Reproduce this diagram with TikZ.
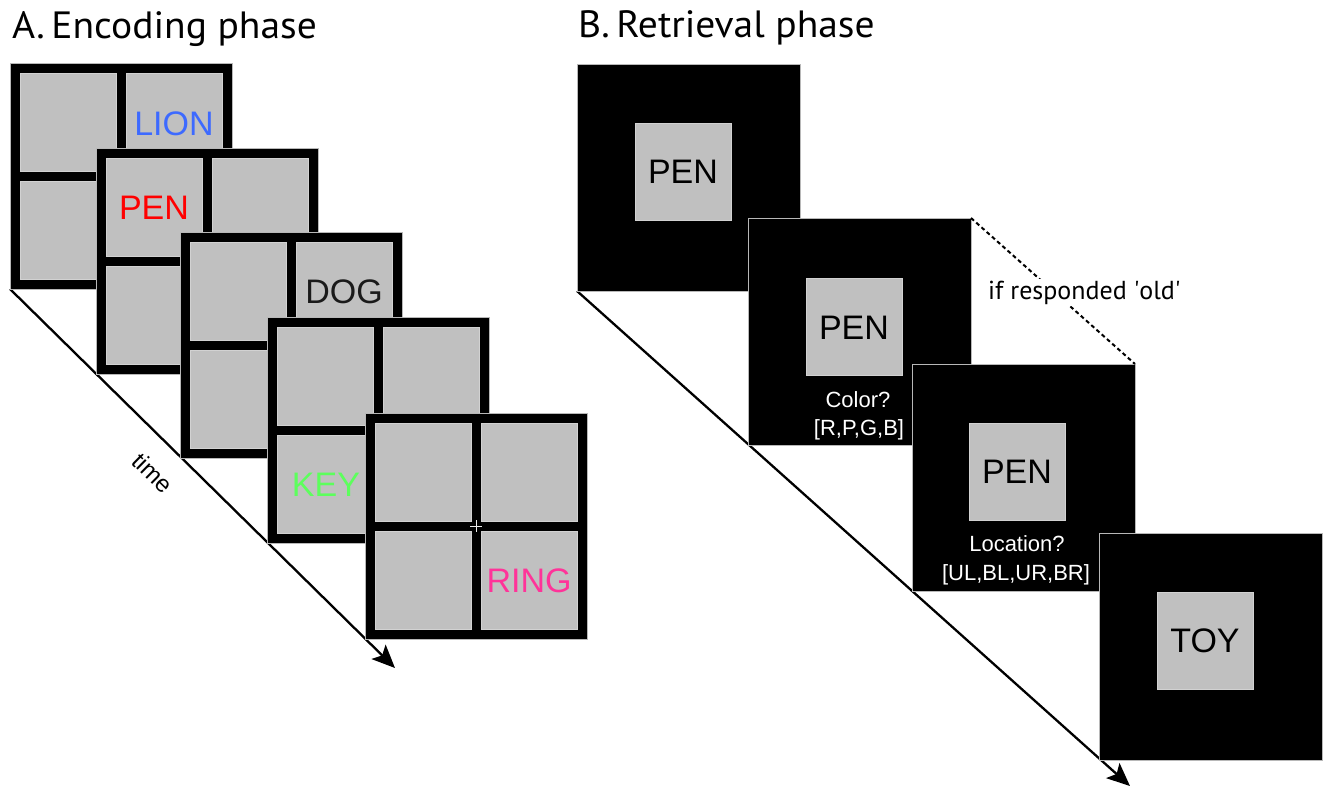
\documentclass[tikz,border=0pt]{standalone}
\usepackage{fontspec}
\setmainfont{Liberation Sans}
\newfontfamily\titlefont{PT Sans}
\usetikzlibrary{arrows.meta,backgrounds}
\definecolor{cellgray}{HTML}{C0C0C0}
\definecolor{edgegray}{HTML}{B8B8B8}
\definecolor{celledge}{HTML}{D2D2D2}
\definecolor{lionblue}{HTML}{3D6AFF}
\definecolor{penred}{HTML}{FF0000}
\definecolor{dogblack}{HTML}{1A1A1A}
\definecolor{keygreen}{HTML}{5CFF5C}
\definecolor{ringpink}{HTML}{FF3399}
\newcommand{\EncFrame}[3]{%
  \node[encbox] (#1) at (#2,#3) {};
  \begin{scope}[shift={(#2,#3)}]
    \path[cellstyle] (10,10) rectangle (106,108);
    \path[cellstyle] (116,10) rectangle (212,108);
    \path[cellstyle] (10,118) rectangle (106,216);
    \path[cellstyle] (116,118) rectangle (212,216);
  \end{scope}}
\begin{document}
\begin{tikzpicture}[x=1pt,y=-1pt,
  encbox/.style={fill=black, draw=edgegray, line width=0.7pt, inner sep=0pt, outer sep=0pt, minimum width=222pt, minimum height=226pt, anchor=north west},
  retbox/.style={fill=black, draw=edgegray, line width=0.7pt, inner sep=0pt, outer sep=0pt, minimum width=223pt, minimum height=227pt, anchor=north west},
  cellstyle/.style={fill=cellgray, draw=celledge, line width=0.6pt},
  word/.style={font=\fontsize{34}{40}\selectfont, inner sep=0pt, text height=24.3pt, text depth=0pt},
  graysq/.style={word, fill=cellgray, draw=celledge, line width=0.6pt, minimum width=96pt, minimum height=97pt, text=black},
  ask/.style={font=\fontsize{22}{26}\selectfont, text=white, inner sep=0pt, anchor=base},
  title/.style={font=\titlefont\fontsize{38}{44}\selectfont, inner sep=0pt, anchor=base west, xscale=1.04},
  timearrow/.style={line width=2.3pt, -{Stealth[length=23pt,width=20pt,inset=5pt]}},
  condline/.style={line width=2pt, dash pattern=on 4pt off 3pt}
]
\useasboundingbox (0,0) rectangle (1326,789);

% titles
\node[title] (titleA) at (12,39) {A.\,Encoding phase};
\node[title] (titleB) at (578,38) {B.\,Retrieval phase};

% encoding phase
\EncFrame{e1}{10}{63}
\node[word, text=lionblue] (lion) at (174,123) {LION};
\EncFrame{e2}{96}{148}
\node[word, text=penred] (pen) at (154,207) {PEN};
\EncFrame{e3}{180}{232}
\node[word, text=dogblack] (dog) at (344,291) {DOG};
\EncFrame{e4}{267}{317}
\node[word, text=keygreen] (key) at (326,484) {KEY};
\EncFrame{e5}{365}{413}
\node[word, text=ringpink] (ring) at (529,580) {RING};
\draw[white!85!gray, line width=1pt] (e5.center) ++(-6,0) -- ++(12,0) (e5.center) ++(0,-6) -- ++(0,12);

\coordinate (tipA) at (395,668);
\node[rotate=-44.5, font=\fontsize{24}{28}\selectfont, inner sep=0pt] (timelbl) at (153,473) {time};

% retrieval phase
\node[retbox] (r1) at (577,64) {};
\node[graysq] (p1) at (683,171.5) {PEN};
\node[retbox] (r2) at (748,218) {};
\node[graysq] (p2) at (854,327) {PEN};
\node[ask] (q1) at (858,407) {Color?};
\node[ask] (a1) at (859,435) {[R,P,G,B]};
\node[retbox] (r3) at (912,364) {};
\node[graysq] (p3) at (1017,471.5) {PEN};
\node[ask] (q2) at (1017,551) {Location?};
\node[ask] (a2) at (1016,580) {[UL,BL,UR,BR]};
\node[retbox] (r4) at (1099,533) {};
\node[graysq] (p4) at (1205,640.5) {TOY};

\coordinate (tipB) at (1130,786);

\draw[condline] (r2.north east) -- (r3.north east);
\node[fill=white, inner sep=2pt, font=\titlefont\fontsize{26}{28}\selectfont, anchor=base west] (cond) at (986,299) {if responded \textquotesingle old\textquotesingle};

\begin{scope}[on background layer]
  \fill[white] (0,0) rectangle (1326,789);
  \draw[timearrow] (e1.south west) -- (tipA);
  \draw[timearrow] (r1.south west) -- (tipB);
\end{scope}
\end{tikzpicture}
\end{document}
